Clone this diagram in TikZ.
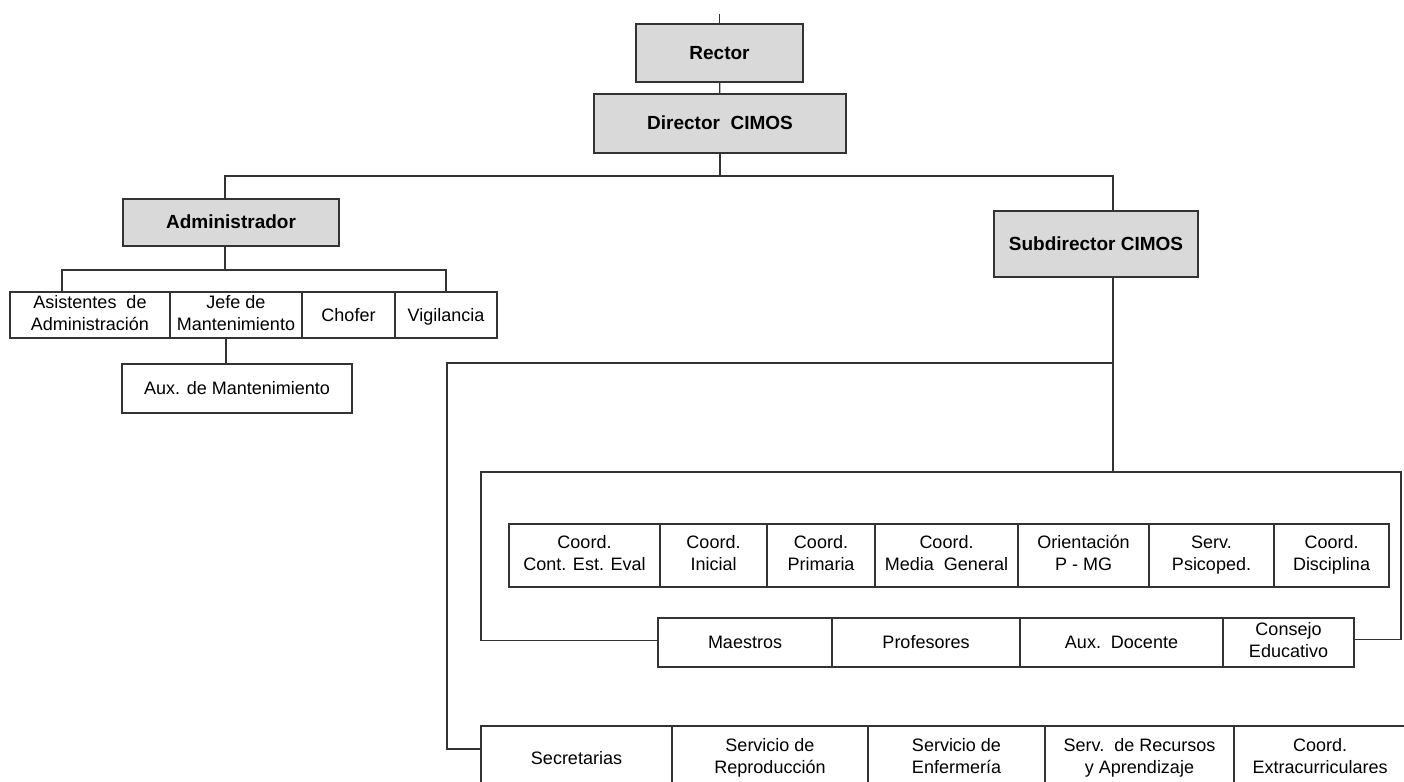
\documentclass[tikz,border=0pt]{standalone}
\usepackage{fontspec}
\setmainfont{Liberation Sans}

\newcommand{\hiStrut}{\rule{0pt}{17pt}}
\newcommand{\loStrut}{\rule[-4.5pt]{0pt}{4.5pt}}

\tikzset{
    headbox/.style={draw=black!80, line width=1.2pt, fill=black!15, inner sep=0pt,
        align=center, font=\bfseries\fontsize{19}{22}\selectfont,
        execute at begin node=\hiStrut, execute at end node=\loStrut},
    unitbox/.style={draw=black!80, line width=1.2pt, fill=white, inner sep=0pt,
        align=center, font=\fontsize{18}{22}\selectfont,
        execute at begin node=\hiStrut, execute at end node=\loStrut},
    link/.style={draw=black!80, line width=1.2pt}
}

\begin{document}
\begin{tikzpicture}[x=1pt, y=-1pt]
    \clip (0,0) rectangle (1404,781);

    % top of the chart
    \node[headbox, minimum width=167pt, minimum height=58pt] (rector) at (719.5,53) {Rector};
    \node[headbox, minimum width=252pt, minimum height=59pt] (director) at (720,123.5) {Director\ \ CIMOS};
    \node[headbox, minimum width=216pt, minimum height=47pt] (admin) at (231,222.5) {Administrador};
    \node[headbox, minimum width=204pt, minimum height=66pt] (sub) at (1096,244) {Subdirector CIMOS};

    % administration
    \node[unitbox, minimum width=160pt, minimum height=46pt] (asist) at (90,315) {Asistentes\ \ de\\Administración};
    \node[unitbox, minimum width=132pt, minimum height=46pt] (jefe) at (236,315) {Jefe de\\Mantenimiento};
    \node[unitbox, minimum width=93pt, minimum height=46pt] (chofer) at (348.5,315) {Chofer};
    \node[unitbox, minimum width=102pt, minimum height=46pt] (vigil) at (446,315) {Vigilancia};
    \node[unitbox, minimum width=230pt, minimum height=49pt] (auxm) at (237,388.5) {Aux. de Mantenimiento};

    % coordinations
    \node[unitbox, minimum width=151pt, minimum height=63pt] (cont) at (584.5,555.5) {Coord.\\Cont. Est. Eval};
    \node[unitbox, minimum width=107pt, minimum height=63pt] (inicial) at (713.5,555.5) {Coord.\\Inicial};
    \node[unitbox, minimum width=108pt, minimum height=63pt] (primaria) at (821,555.5) {Coord.\\Primaria};
    \node[unitbox, minimum width=143pt, minimum height=63pt] (media) at (946.5,555.5) {Coord.\\Media\ \ General};
    \node[unitbox, minimum width=131pt, minimum height=63pt] (orient) at (1083.5,555.5) {Orientación\\P - MG};
    \node[unitbox, minimum width=125pt, minimum height=63pt] (psico) at (1211.5,555.5) {Serv.\\Psicoped.};
    \node[unitbox, minimum width=115pt, minimum height=63pt] (disc) at (1331.5,555.5) {Coord.\\Disciplina};

    % teaching staff
    \node[unitbox, minimum width=174pt, minimum height=49pt] (maestros) at (745,642.5) {Maestros};
    \node[unitbox, minimum width=188pt, minimum height=49pt] (profes) at (926,642.5) {Profesores};
    \node[unitbox, minimum width=203pt, minimum height=49pt] (auxdoc) at (1121.5,642.5) {Aux.\ \ Docente};
    \node[unitbox, minimum width=131pt, minimum height=49pt] (consejo) at (1288.5,642.5) {Consejo\\Educativo};

    % services
    \node[unitbox, minimum width=191pt, minimum height=64pt] (secr) at (576.5,758) {Secretarias};
    \node[unitbox, minimum width=196pt, minimum height=64pt] (reprod) at (770,758) {Servicio de\\Reproducción};
    \node[unitbox, minimum width=177pt, minimum height=64pt] (enferm) at (956.5,758) {Servicio de\\Enfermería};
    \node[unitbox, minimum width=189pt, minimum height=64pt] (recursos) at (1139.5,758) {Serv.\ \ de Recursos\\y Aprendizaje};
    \node[unitbox, minimum width=172pt, minimum height=64pt] (extra) at (1320,758) {Coord.\\Extracurriculares};

    % connectors
    \coordinate (top) at (719.5,14);
    \coordinate (dbus) at (720,176);
    \coordinate (abus) at (225,270);
    \coordinate (obus) at (1113,363);
    \coordinate (ibus) at (1113,472);
    \coordinate (oleft) at (447,363);
    \coordinate (ileft) at (481,472);
    \coordinate (iright) at (1401,472);

    \draw[link] (top) -- (rector);
    \draw[link] (rector) -- (director);
    \draw[link] (director) -- (dbus);
    \draw[link] ([xshift=-6pt]admin.north) |- (dbus) -| ([xshift=17pt]sub.north);
    \draw[link] ([xshift=-6pt]admin.south) -- (abus);
    \draw[link] ([xshift=-28pt]asist.north) |- (abus) -| (vigil.north);
    \draw[link] ([xshift=-10pt]jefe.south) -- ([xshift=-11pt]auxm.north);
    \draw[link] ([xshift=17pt]sub.south) -- (ibus);
    \draw[link] (obus) -- (oleft) |- ([yshift=9pt]secr.west);
    \draw[link] ([yshift=2pt]maestros.west) -| (ileft) -- (iright) |- ([yshift=3pt]consejo.east);
\end{tikzpicture}
\end{document}
